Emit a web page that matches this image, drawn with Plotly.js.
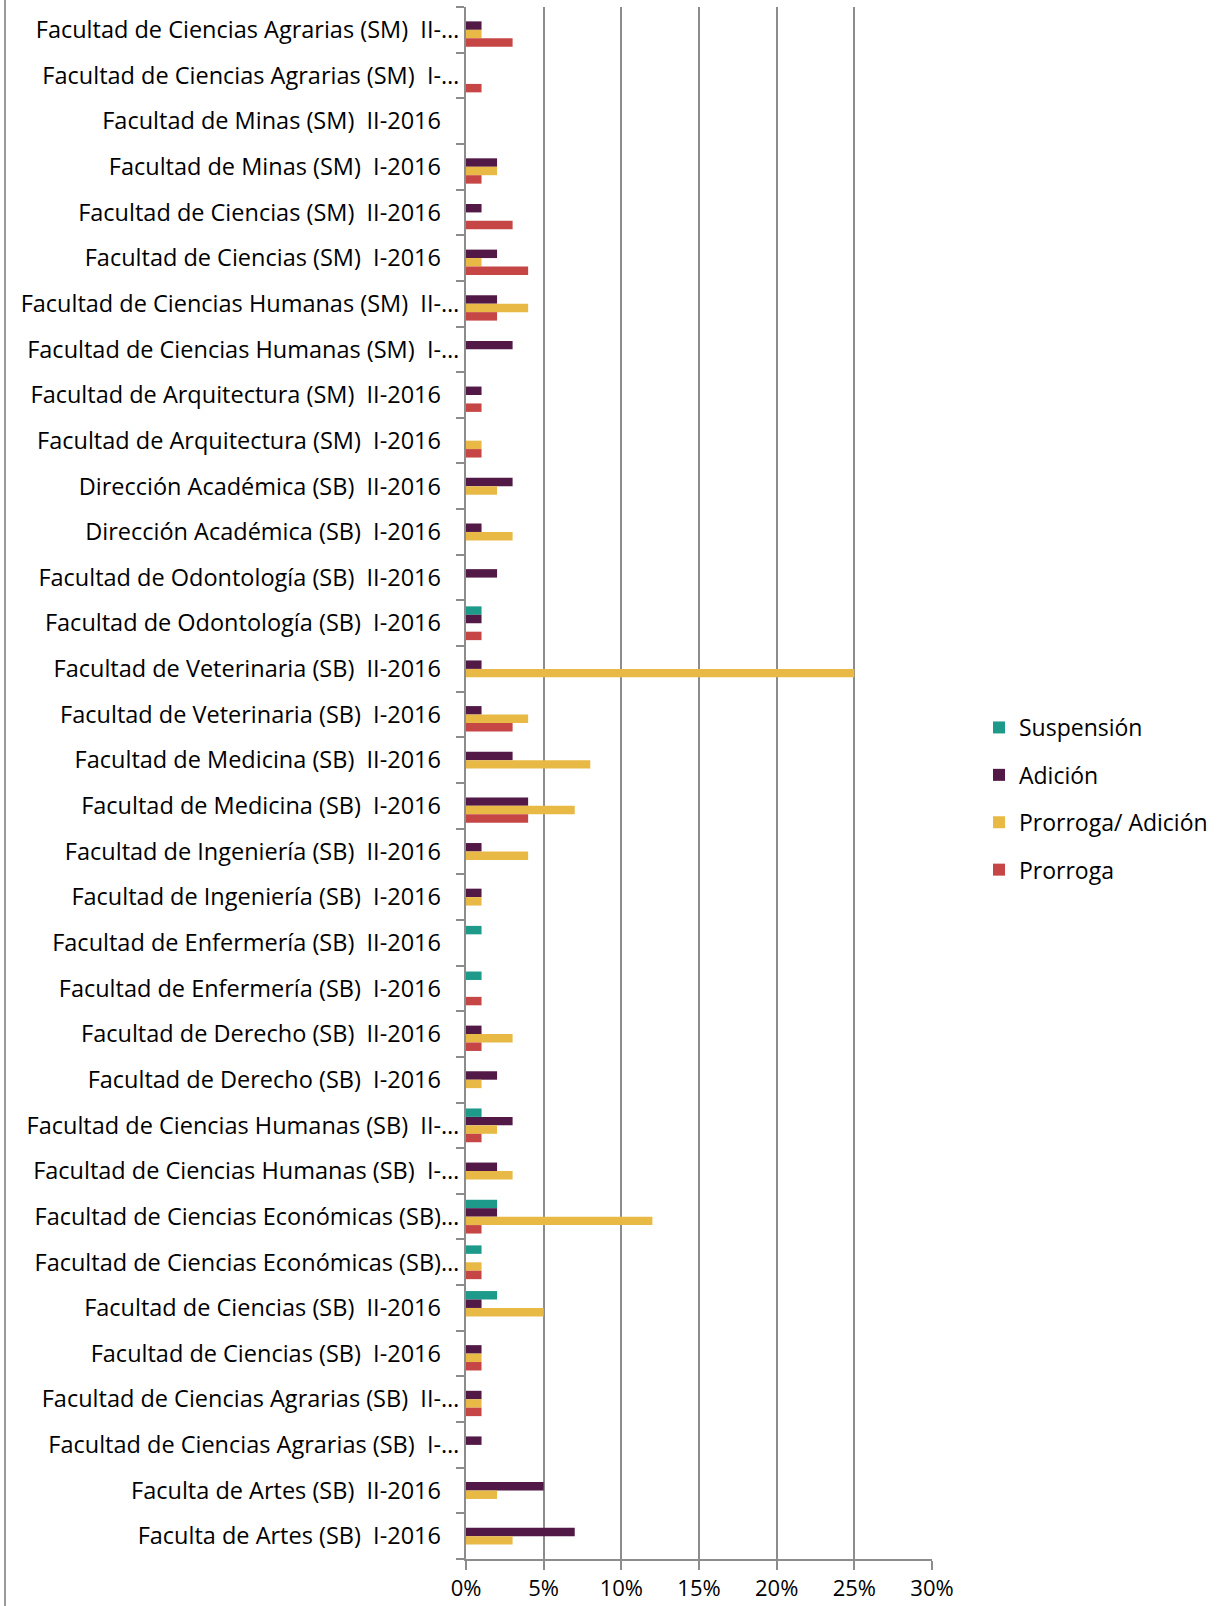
<!DOCTYPE html>
<html>
<head>
<meta charset="utf-8">
<script src="https://cdn.plot.ly/plotly-3.0.1.min.js"></script>
<style>
  html, body { margin: 0; padding: 0; background: #ffffff; }
  #chart { width: 1222px; height: 1606px; }
</style>
</head>
<body>
<div id="chart"></div>
<script>
// Categories, top to bottom as in the reference
const categories = [
  "Facultad de Ciencias Agrarias (SM) II-2016",
  "Facultad de Ciencias Agrarias (SM) I-2016",
  "Facultad de Minas (SM) II-2016",
  "Facultad de Minas (SM) I-2016",
  "Facultad de Ciencias (SM) II-2016",
  "Facultad de Ciencias (SM) I-2016",
  "Facultad de Ciencias Humanas (SM) II-2016",
  "Facultad de Ciencias Humanas (SM) I-2016",
  "Facultad de Arquitectura (SM) II-2016",
  "Facultad de Arquitectura (SM) I-2016",
  "Dirección Académica (SB) II-2016",
  "Dirección Académica (SB) I-2016",
  "Facultad de Odontología (SB) II-2016",
  "Facultad de Odontología (SB) I-2016",
  "Facultad de Veterinaria (SB) II-2016",
  "Facultad de Veterinaria (SB) I-2016",
  "Facultad de Medicina (SB) II-2016",
  "Facultad de Medicina (SB) I-2016",
  "Facultad de Ingeniería (SB) II-2016",
  "Facultad de Ingeniería (SB) I-2016",
  "Facultad de Enfermería (SB) II-2016",
  "Facultad de Enfermería (SB) I-2016",
  "Facultad de Derecho (SB) II-2016",
  "Facultad de Derecho (SB) I-2016",
  "Facultad de Ciencias Humanas (SB) II-2016",
  "Facultad de Ciencias Humanas (SB) I-2016",
  "Facultad de Ciencias Económicas (SB) II-2016",
  "Facultad de Ciencias Económicas (SB) I-2016",
  "Facultad de Ciencias (SB) II-2016",
  "Facultad de Ciencias (SB) I-2016",
  "Facultad de Ciencias Agrarias (SB) II-2016",
  "Facultad de Ciencias Agrarias (SB) I-2016",
  "Faculta de Artes (SB) II-2016",
  "Faculta de Artes (SB) I-2016"
];

// Tick labels as displayed (truncated as in the reference)
const tickLabels = [
  "Facultad de Ciencias Agrarias (SM)\u00a0 II-…",
  "Facultad de Ciencias Agrarias (SM)\u00a0 I-…",
  "Facultad de Minas (SM)\u00a0 II-2016",
  "Facultad de Minas (SM)\u00a0 I-2016",
  "Facultad de Ciencias (SM)\u00a0 II-2016",
  "Facultad de Ciencias (SM)\u00a0 I-2016",
  "Facultad de Ciencias Humanas (SM)\u00a0 II-…",
  "Facultad de Ciencias Humanas (SM)\u00a0 I-…",
  "Facultad de Arquitectura (SM)\u00a0 II-2016",
  "Facultad de Arquitectura (SM)\u00a0 I-2016",
  "Dirección Académica (SB)\u00a0 II-2016",
  "Dirección Académica (SB)\u00a0 I-2016",
  "Facultad de Odontología (SB)\u00a0 II-2016",
  "Facultad de Odontología (SB)\u00a0 I-2016",
  "Facultad de Veterinaria (SB)\u00a0 II-2016",
  "Facultad de Veterinaria (SB)\u00a0 I-2016",
  "Facultad de Medicina (SB)\u00a0 II-2016",
  "Facultad de Medicina (SB)\u00a0 I-2016",
  "Facultad de Ingeniería (SB)\u00a0 II-2016",
  "Facultad de Ingeniería (SB)\u00a0 I-2016",
  "Facultad de Enfermería (SB)\u00a0 II-2016",
  "Facultad de Enfermería (SB)\u00a0 I-2016",
  "Facultad de Derecho (SB)\u00a0 II-2016",
  "Facultad de Derecho (SB)\u00a0 I-2016",
  "Facultad de Ciencias Humanas (SB)\u00a0 II-…",
  "Facultad de Ciencias Humanas (SB)\u00a0 I-…",
  "Facultad de Ciencias Económicas (SB)…",
  "Facultad de Ciencias Económicas (SB)…",
  "Facultad de Ciencias (SB)\u00a0 II-2016",
  "Facultad de Ciencias (SB)\u00a0 I-2016",
  "Facultad de Ciencias Agrarias (SB)\u00a0 II-…",
  "Facultad de Ciencias Agrarias (SB)\u00a0 I-…",
  "Faculta de Artes (SB)\u00a0 II-2016",
  "Faculta de Artes (SB)\u00a0 I-2016"
];

// Series values (percent)
const suspension      = [0,0,0,0,0,0,0,0,0,0, 0,0,0,1,0,0,0,0,0,0, 1,1,0,0,1,0,2,1,2,0, 0,0,0,0];
const adicion         = [1,0,0,2,1,2,2,3,1,0, 3,1,2,1,1,1,3,4,1,1, 0,0,1,2,3,2,2,0,1,1, 1,1,5,7];
const prorrogaAdicion = [1,0,0,2,0,1,4,0,0,1, 2,3,0,0,25,4,8,7,4,1, 0,0,3,1,2,3,12,1,5,1, 1,0,2,3];
const prorroga        = [3,1,0,1,3,4,2,0,1,1, 0,0,0,1,0,3,0,4,0,0, 0,1,1,0,1,0,1,1,0,1, 1,0,0,0];

const seriesNames = ["Suspensión", "Adición", "Prorroga/ Adición", "Prorroga"];
const xTickVals = [0, 5, 10, 15, 20, 25, 30];
const xTickLabels = ["0%", "5%", "10%", "15%", "20%", "25%", "30%"];

// Styling
const colors = ["#1e9a8a", "#521846", "#e8ba45", "#c64646"];
const FONT = "'Open Sans', 'Noto Sans', sans-serif";
const FS = 23.5;
const W = 1222, H = 1606;
const M = { l: 466, r: 290, t: 7, b: 47 };
const plotW = W - M.l - M.r;
const plotH = H - M.t - M.b;

// Pad complete labels so truncated ones sit closer to the axis, as in Excel
const displayLabels = tickLabels.map(t => t.endsWith("…") ? t : t + "\u00a0\u00a0\u00a0");

const seriesData = [suspension, adicion, prorrogaAdicion, prorroga];
const traces = seriesData.map((vals, i) => ({
  type: "bar",
  orientation: "h",
  name: seriesNames[i],
  legendgroup: "g" + i,
  x: vals,
  y: categories,
  marker: { color: colors[i], line: { width: 0 } },
  hoverinfo: "x+y+name"
}));

const layout = {
  width: W,
  height: H,
  margin: M,
  paper_bgcolor: "#ffffff",
  plot_bgcolor: "#ffffff",
  font: { family: FONT, size: FS, color: "#000000" },
  barmode: "group",
  bargap: 0.26,
  bargroupgap: 0,
  showlegend: true,
  legend: {
    x: (979 - M.l) / plotW,
    xanchor: "left",
    y: (H - M.b - 706) / plotH,
    yanchor: "top",
    traceorder: "grouped",
    tracegroupgap: 14.5,
    font: { family: FONT, size: 23, color: "#000000" },
    bgcolor: "rgba(0,0,0,0)",
    borderwidth: 0
  },
  xaxis: {
    range: [0, 30],
    tickmode: "array",
    tickvals: xTickVals,
    ticktext: xTickLabels,
    showgrid: true,
    gridcolor: "#8c8c8c",
    gridwidth: 2,
    zeroline: false,
    showline: true,
    linecolor: "#8c8c8c",
    linewidth: 2,
    ticks: "outside",
    ticklen: 9,
    tickwidth: 2,
    tickcolor: "#8c8c8c",
    ticklabelstandoff: 0,
    tickfont: { family: FONT, size: 22, color: "#000000" },
    fixedrange: true
  },
  yaxis: {
    type: "category",
    categoryorder: "array",
    categoryarray: categories,
    autorange: "reversed",
    tickmode: "array",
    tickvals: categories,
    ticktext: displayLabels,
    tickson: "boundaries",
    ticks: "outside",
    ticklen: 8,
    tickwidth: 2,
    tickcolor: "#8c8c8c",
    showline: true,
    linecolor: "#8c8c8c",
    linewidth: 2,
    showgrid: false,
    zeroline: false,
    tickfont: { family: FONT, size: FS, color: "#000000" },
    fixedrange: true
  },
  shapes: [{
    type: "line",
    xref: "paper", yref: "paper",
    x0: (5 - M.l) / plotW, x1: (5 - M.l) / plotW,
    y0: (H - M.b - 0) / plotH, y1: (H - M.b - H) / plotH,
    line: { color: "#9a9a9a", width: 2 }
  }]
};

Plotly.newPlot("chart", traces, layout, { displayModeBar: false, staticPlot: true });
</script>
</body>
</html>
